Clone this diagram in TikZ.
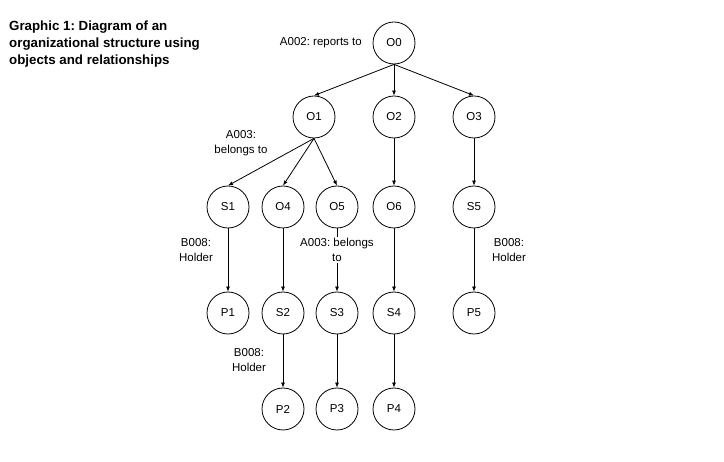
\documentclass[tikz,border=0pt]{standalone}
\usepackage{fontspec}
\setmainfont{Liberation Sans}
\usetikzlibrary{arrows.meta}
\frenchspacing
\begin{document}
\begin{tikzpicture}[x=1pt,y=-1pt,
  obj/.style={draw,circle,minimum size=42pt,inner sep=0pt,line width=0.8pt,font=\fontsize{11.5}{14}\selectfont},
  rel/.style={-{Latex[length=5pt,width=4pt]},line width=0.8pt},
  lab/.style={align=center,inner sep=1pt,font=\fontsize{11.5}{15}\selectfont},
  ttl/.style={align=left,inner sep=0pt,anchor=north west,font=\bfseries\fontsize{13.3}{17}\selectfont}]
\useasboundingbox (0,0) rectangle (724,462);
\node[ttl] (title) at (9,20.5) {Graphic 1: Diagram of an\\organizational structure using\\objects and relationships};
% nodes
\node[obj] (O0) at (394,43) {O0};
\node[obj] (O1) at (314,117) {O1};
\node[obj] (O2) at (394,117) {O2};
\node[obj] (O3) at (474,117) {O3};
\node[obj] (S1) at (228,207) {S1};
\node[obj] (O4) at (283,207) {O4};
\node[obj] (O5) at (337,207) {O5};
\node[obj] (O6) at (394,207) {O6};
\node[obj] (S5) at (474,207) {S5};
\node[obj] (P1) at (228,313) {P1};
\node[obj] (S2) at (283,313) {S2};
\node[obj] (S3) at (337,313) {S3};
\node[obj] (S4) at (394,313) {S4};
\node[obj] (P5) at (474,313) {P5};
\node[obj] (P2) at (283,409) {P2};
\node[obj] (P3) at (337,409) {P3};
\node[obj] (P4) at (394,409) {P4};
% connectors
\draw[rel] (O0.south) -- (O1.north);
\draw[rel] (O0.south) -- (O2.north);
\draw[rel] (O0.south) -- (O3.north);
\draw[rel] (O1.south) -- (S1.north);
\draw[rel] (O1.south) -- (O4.north);
\draw[rel] (O1.south) -- (O5.north);
\draw[rel] (O2.south) -- (O6.north);
\draw[rel] (O3.south) -- (S5.north);
\draw[rel] (S1.south) -- (P1.north);
\draw[rel] (O4.south) -- (S2.north);
\draw[rel] (O5.south) -- (S3.north);
\draw[rel] (O6.south) -- (S4.north);
\draw[rel] (S5.south) -- (P5.north);
\draw[rel] (S2.south) -- (P2.north);
\draw[rel] (S3.south) -- (P3.north);
\draw[rel] (S4.south) -- (P4.north);
% labels
\node[lab,anchor=east] (l1) at (363,43) {A002: reports to};
\node[lab] (l2) at (241,143) {A003:\\belongs to};
\node[lab] (l3) at (196,250) {B008:\\Holder};
\node[lab,fill=white] (l4) at (337,250) {A003: belongs\\to};
\node[lab] (l5) at (509,250) {B008:\\Holder};
\node[lab] (l6) at (249,360) {B008:\\Holder};
\end{tikzpicture}
\end{document}
